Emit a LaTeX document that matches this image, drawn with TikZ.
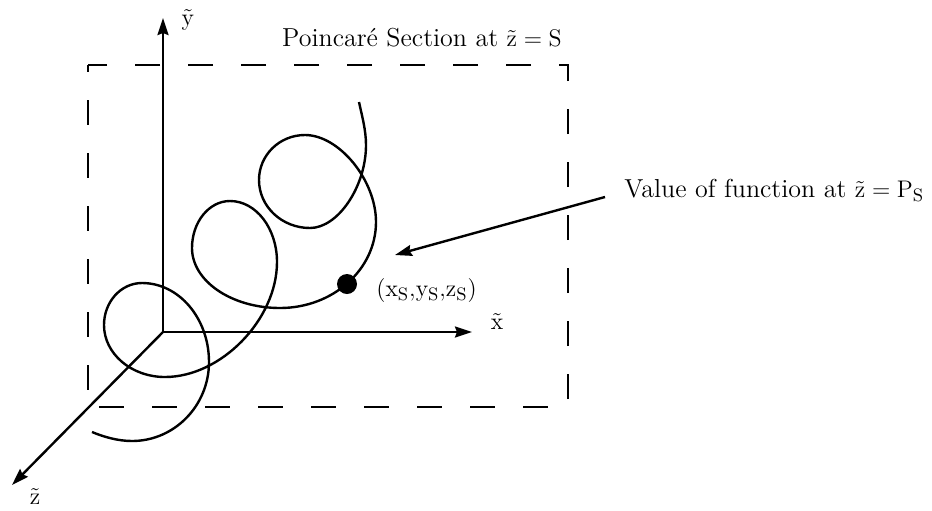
\documentclass[tikz,border=0pt]{standalone}
\usetikzlibrary{arrows.meta}
\begin{document}
\begin{tikzpicture}[x=0.5pt,y=-0.5pt,
  every node/.style={font=\fontsize{13}{15.5}\selectfont},
  ax/.style={line width=1.2pt,-{Stealth[length=8.5pt,width=5.5pt,inset=1pt]}},
  curve/.style={line width=1.2pt},
  sec/.style={line width=1.2pt,dash pattern=on 12.5pt off 14pt,dash phase=9pt},
  lbl/.style={inner sep=0pt}]
\useasboundingbox (0,0) rectangle (932,510);
% section box
\draw[sec] (88,65) rectangle (568,407);
% axes
\coordinate (O) at (163,332);
\coordinate (ytip) at (163,18);
\coordinate (xtip) at (472,332);
\coordinate (ztip) at (12,485);
\draw[ax] (O) -- (ytip);
\draw[ax] (O) -- (xtip);
\draw[ax] (O) -- (ztip);
\node[lbl] (ylab) at (188,20) {$\tilde{\mathrm{y}}$};
\node[lbl] (xlab) at (497,322) {$\tilde{\mathrm{x}}$};
\node[lbl] (zlab) at (35,497) {$\tilde{\mathrm{z}}$};
\node[lbl] (title) at (422,38) {Poincar\'e Section at $\tilde{\mathrm{z}}=\mathrm{S}$};
% spiral
\draw[curve] (92,432)
  .. controls (104,437) and (118,441) .. (132,441)
  .. controls (174.5,441) and (209,405.6) .. (209,362)
  .. controls (209,318.4) and (179,283) .. (142,283)
  .. controls (121,283) and (104,301.8) .. (104,325)
  .. controls (104,353.7) and (131.3,377) .. (165,377)
  .. controls (221,377) and (277,319.5) .. (277,262)
  .. controls (277,228.3) and (256,201) .. (230,201)
  .. controls (209,201) and (192,222) .. (192,248)
  .. controls (192,281) and (231.4,308) .. (280,308)
  .. controls (333,308) and (376,269.5) .. (376,222)
  .. controls (376,180) and (339,135) .. (305,135)
  .. controls (279.6,135) and (259,155) .. (259,180)
  .. controls (259,206.5) and (281.8,228) .. (310,228)
  .. controls (338,228) and (366,186.5) .. (366,145)
  .. controls (366,130) and (362,116) .. (359,102);
\node[circle,fill=black,inner sep=0pt,minimum size=10pt] (dot) at (347,284) {};
\node[lbl,anchor=west] (pt) at (376,290) {$(\mathrm{x_S}{,}\mathrm{y_S}{,}\mathrm{z_S})$};
\node[lbl,anchor=west] (val) at (624,190) {Value of function at $\tilde{\mathrm{z}}=\mathrm{P_S}$};
\coordinate (astart) at (605,197);
\coordinate (aend) at (395,255);
\draw[ax] (astart) -- (aend);
\end{tikzpicture}
\end{document}
